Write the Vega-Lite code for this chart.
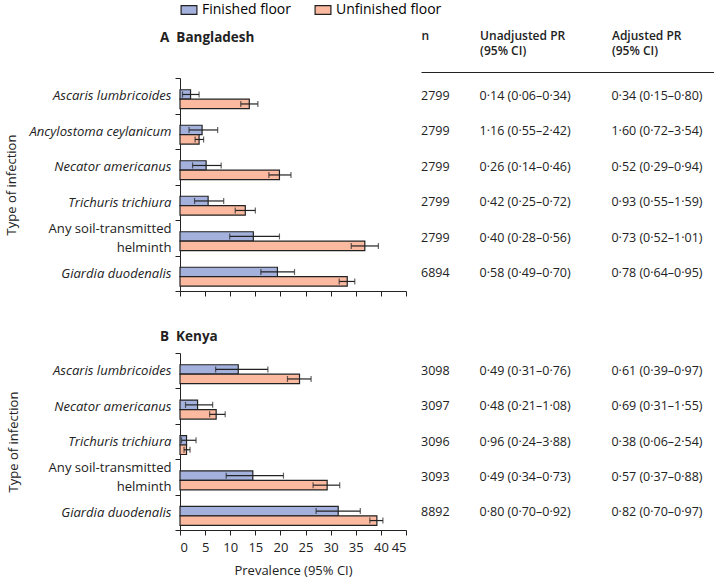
{
  "$schema": "https://vega.github.io/schema/vega-lite/v6.json",
  "padding": {"left": 5, "top": 1, "right": 0, "bottom": 5},
  "config": {
    "font": "Open Sans",
    "view": {"stroke": null},
    "axis": {"domainColor": "#222", "tickColor": "#222", "labelColor": "#222", "titleColor": "#222", "grid": false, "labelFontSize": 13, "titleFontSize": 13, "titleFontWeight": "normal"},
    "title": {"color": "#222"}
  },
  "datasets": {
    "bars": [
      {"country": "Bangladesh", "infection": "Ascaris lumbricoides", "floor": "Finished floor", "prev": 2.1, "lo": 0.5, "hi": 3.8},
      {"country": "Bangladesh", "infection": "Ascaris lumbricoides", "floor": "Unfinished floor", "prev": 13.8, "lo": 12.1, "hi": 15.5},
      {"country": "Bangladesh", "infection": "Ancylostoma ceylanicum", "floor": "Finished floor", "prev": 4.4, "lo": 1.8, "hi": 7.5},
      {"country": "Bangladesh", "infection": "Ancylostoma ceylanicum", "floor": "Unfinished floor", "prev": 3.8, "lo": 3.0, "hi": 4.7},
      {"country": "Bangladesh", "infection": "Necator americanus", "floor": "Finished floor", "prev": 5.2, "lo": 2.5, "hi": 8.2},
      {"country": "Bangladesh", "infection": "Necator americanus", "floor": "Unfinished floor", "prev": 19.8, "lo": 17.7, "hi": 22.1},
      {"country": "Bangladesh", "infection": "Trichuris trichiura", "floor": "Finished floor", "prev": 5.6, "lo": 2.9, "hi": 8.7},
      {"country": "Bangladesh", "infection": "Trichuris trichiura", "floor": "Unfinished floor", "prev": 13.0, "lo": 11.0, "hi": 15.0},
      {"country": "Bangladesh", "infection": "Any soil-transmitted helminth", "floor": "Finished floor", "prev": 14.6, "lo": 9.9, "hi": 19.8},
      {"country": "Bangladesh", "infection": "Any soil-transmitted helminth", "floor": "Unfinished floor", "prev": 36.8, "lo": 34.1, "hi": 39.5},
      {"country": "Bangladesh", "infection": "Giardia duodenalis", "floor": "Finished floor", "prev": 19.4, "lo": 16.1, "hi": 22.8},
      {"country": "Bangladesh", "infection": "Giardia duodenalis", "floor": "Unfinished floor", "prev": 33.3, "lo": 31.7, "hi": 34.8},
      {"country": "Kenya", "infection": "Ascaris lumbricoides", "floor": "Finished floor", "prev": 11.6, "lo": 7.1, "hi": 17.5},
      {"country": "Kenya", "infection": "Ascaris lumbricoides", "floor": "Unfinished floor", "prev": 23.8, "lo": 21.4, "hi": 26.1},
      {"country": "Kenya", "infection": "Necator americanus", "floor": "Finished floor", "prev": 3.5, "lo": 1.1, "hi": 6.5},
      {"country": "Kenya", "infection": "Necator americanus", "floor": "Unfinished floor", "prev": 7.2, "lo": 5.9, "hi": 9.0},
      {"country": "Kenya", "infection": "Trichuris trichiura", "floor": "Finished floor", "prev": 1.3, "lo": 0.3, "hi": 3.2},
      {"country": "Kenya", "infection": "Trichuris trichiura", "floor": "Unfinished floor", "prev": 1.3, "lo": 0.8, "hi": 2.0},
      {"country": "Kenya", "infection": "Any soil-transmitted helminth", "floor": "Finished floor", "prev": 14.5, "lo": 9.2, "hi": 20.6},
      {"country": "Kenya", "infection": "Any soil-transmitted helminth", "floor": "Unfinished floor", "prev": 29.3, "lo": 26.5, "hi": 31.8},
      {"country": "Kenya", "infection": "Giardia duodenalis", "floor": "Finished floor", "prev": 31.5, "lo": 27.1, "hi": 35.9},
      {"country": "Kenya", "infection": "Giardia duodenalis", "floor": "Unfinished floor", "prev": 39.2, "lo": 37.8, "hi": 40.4}
    ],
    "table": [
      {"country": "Bangladesh", "infection": "Ascaris lumbricoides", "n": "2799", "unadj": "0·14 (0·06–0·34)", "adj": "0·34 (0·15–0·80)"},
      {"country": "Bangladesh", "infection": "Ancylostoma ceylanicum", "n": "2799", "unadj": "1·16 (0·55–2·42)", "adj": "1·60 (0·72–3·54)"},
      {"country": "Bangladesh", "infection": "Necator americanus", "n": "2799", "unadj": "0·26 (0·14–0·46)", "adj": "0·52 (0·29–0·94)"},
      {"country": "Bangladesh", "infection": "Trichuris trichiura", "n": "2799", "unadj": "0·42 (0·25–0·72)", "adj": "0·93 (0·55–1·59)"},
      {"country": "Bangladesh", "infection": "Any soil-transmitted helminth", "n": "2799", "unadj": "0·40 (0·28–0·56)", "adj": "0·73 (0·52–1·01)"},
      {"country": "Bangladesh", "infection": "Giardia duodenalis", "n": "6894", "unadj": "0·58 (0·49–0·70)", "adj": "0·78 (0·64–0·95)"},
      {"country": "Kenya", "infection": "Ascaris lumbricoides", "n": "3098", "unadj": "0·49 (0·31–0·76)", "adj": "0·61 (0·39–0·97)"},
      {"country": "Kenya", "infection": "Necator americanus", "n": "3097", "unadj": "0·48 (0·21–1·08)", "adj": "0·69 (0·31–1·55)"},
      {"country": "Kenya", "infection": "Trichuris trichiura", "n": "3096", "unadj": "0·96 (0·24–3·88)", "adj": "0·38 (0·06–2·54)"},
      {"country": "Kenya", "infection": "Any soil-transmitted helminth", "n": "3093", "unadj": "0·49 (0·34–0·73)", "adj": "0·57 (0·37–0·88)"},
      {"country": "Kenya", "infection": "Giardia duodenalis", "n": "8892", "unadj": "0·80 (0·70–0·92)", "adj": "0·82 (0·70–0·97)"}
    ]
  },
  "resolve": {"scale": {"color": "shared"}},
  "spacing": 32,
  "vconcat": [
    {
      "spacing": 14,
      "hconcat": [
        {
          "width": 226, "height": 213,
          "title": {"text": "A\u00a0\u00a0Bangladesh", "anchor": "start", "frame": "group", "dx": -20, "fontSize": 13.5, "fontWeight": "bold", "offset": 28},
          "data": {"name": "bars"},
          "transform": [{"filter": "datum.country == 'Bangladesh'"}],
          "encoding": {
            "y": {"field": "infection", "type": "nominal", "sort": ["Ascaris lumbricoides", "Ancylostoma ceylanicum", "Necator americanus", "Trichuris trichiura", "Any soil-transmitted helminth", "Giardia duodenalis"],
              "scale": {"paddingInner": 0, "paddingOuter": 0},
              "axis": {"title": "Type of infection", "titlePadding": 10, "tickBand": "extent", "tickSize": 5, "labelPadding": 4, "labelLineHeight": 19, "labelFontSize": 13.1,
                "labelExpr": "datum.value == 'Any soil-transmitted helminth' ? ['Any soil-transmitted', 'helminth'] : datum.value",
                "labelOffset": {"condition": {"test": "datum.value == 'Any soil-transmitted helminth'", "value": -9.5}, "value": 0},
                "labelFontStyle": {"condition": {"test": "datum.value == 'Any soil-transmitted helminth'", "value": "normal"}, "value": "italic"}}},
            "yOffset": {"field": "floor", "type": "nominal", "sort": ["Finished floor", "Unfinished floor"], "scale": {"paddingInner": 0, "paddingOuter": 0.87, "align": 0.71}}
          },
          "layer": [
            {"mark": {"type": "bar", "stroke": "#222", "strokeWidth": 1.2},
             "encoding": {
               "x": {"field": "prev", "type": "quantitative", "scale": {"domain": [0, 45]}, "axis": {"values": [0,5,10,15,20,25,30,35,40,45], "labels": false, "title": null, "tickSize": 5}},
               "color": {"field": "floor", "type": "nominal", "scale": {"domain": ["Finished floor", "Unfinished floor"], "range": ["#a3b1dc", "#fbb9a0"]},
                 "legend": {"title": null, "orient": "top", "offset": 12, "direction": "horizontal", "symbolType": "M-1,-0.55H1V0.55H-1Z", "symbolStrokeColor": "#222", "symbolStrokeWidth": 1.2, "symbolSize": 250, "labelFontSize": 14, "columnPadding": 20}}
             }},
            {"mark": {"type": "rule", "color": "#222", "strokeWidth": 1.2}, "encoding": {"x": {"field": "lo", "type": "quantitative", "axis": {"values": [0,5,10,15,20,25,30,35,40,45], "labels": false, "title": null, "tickSize": 5}}, "x2": {"field": "hi"}}},
            {"mark": {"type": "tick", "color": "#222", "thickness": 1.2, "size": 6}, "encoding": {"x": {"field": "lo", "type": "quantitative", "axis": {"values": [0,5,10,15,20,25,30,35,40,45], "labels": false, "title": null, "tickSize": 5}}}},
            {"mark": {"type": "tick", "color": "#222", "thickness": 1.2, "size": 6}, "encoding": {"x": {"field": "hi", "type": "quantitative", "axis": {"values": [0,5,10,15,20,25,30,35,40,45], "labels": false, "title": null, "tickSize": 5}}}}
          ]
        },
        {
          "width": 293, "height": 213,
          "data": {"name": "table"},
          "transform": [{"filter": "datum.country == 'Bangladesh'"}, {"fold": ["n", "unadj", "adj"], "as": ["col", "txt"]}],
          "mark": {"type": "text", "align": "left", "baseline": "middle", "fontSize": 12.5, "color": "#222"},
          "encoding": {
            "y": {"field": "infection", "type": "nominal", "sort": ["Ascaris lumbricoides", "Ancylostoma ceylanicum", "Necator americanus", "Trichuris trichiura", "Any soil-transmitted helminth", "Giardia duodenalis"], "scale": {"paddingInner": 0, "paddingOuter": 0}, "axis": null},
            "x": {"field": "col", "type": "nominal",
              "scale": {"type": "point", "domain": ["n", "s1", "s2", "s3", "unadj", "s5", "s6", "s7", "s8", "s9", "s10", "s11", "s12", "adj", "s14", "s15", "s16", "s17", "s18", "s19", "s20"], "padding": 0},
              "axis": {"orient": "top", "values": ["n", "unadj", "adj"], "ticks": false, "offset": 6, "labelAlign": "left", "labelBaseline": "bottom", "labelPadding": 30, "labelFontWeight": 600, "labelFontSize": 12, "labelLineHeight": 15.5, "labelAngle": 0, "title": null, "labelOverlap": false,
                "labelExpr": "datum.value == 'n' ? ['n', ''] : datum.value == 'unadj' ? ['Unadjusted PR', '(95% CI)'] : ['Adjusted PR', '(95% CI)']"}},
            "text": {"field": "txt", "type": "nominal"}
          }
        }
      ]
    },
    {
      "spacing": 14,
      "hconcat": [
        {
          "width": 226, "height": 177,
          "title": {"text": "B\u00a0\u00a0Kenya", "anchor": "start", "frame": "group", "dx": -20, "fontSize": 13.5, "fontWeight": "bold", "offset": 4},
          "data": {"name": "bars"},
          "transform": [{"filter": "datum.country == 'Kenya'"}],
          "encoding": {
            "y": {"field": "infection", "type": "nominal", "sort": ["Ascaris lumbricoides", "Necator americanus", "Trichuris trichiura", "Any soil-transmitted helminth", "Giardia duodenalis"],
              "scale": {"paddingInner": 0, "paddingOuter": 0},
              "axis": {"title": "Type of infection", "titlePadding": 28, "tickBand": "extent", "tickSize": 5, "labelPadding": 4, "labelLineHeight": 19, "labelFontSize": 13.1,
                "labelExpr": "datum.value == 'Any soil-transmitted helminth' ? ['Any soil-transmitted', 'helminth'] : datum.value",
                "labelOffset": {"condition": {"test": "datum.value == 'Any soil-transmitted helminth'", "value": -9.5}, "value": 0},
                "labelFontStyle": {"condition": {"test": "datum.value == 'Any soil-transmitted helminth'", "value": "normal"}, "value": "italic"}}},
            "yOffset": {"field": "floor", "type": "nominal", "sort": ["Finished floor", "Unfinished floor"], "scale": {"paddingInner": 0, "paddingOuter": 0.87, "align": 0.71}}
          },
          "layer": [
            {"mark": {"type": "bar", "stroke": "#222", "strokeWidth": 1.2},
             "encoding": {
               "x": {"field": "prev", "type": "quantitative", "scale": {"domain": [0, 45]}, "axis": {"values": [0,5,10,15,20,25,30,35,40,45], "title": "Prevalence (95% CI)", "tickSize": 5, "labelPadding": 6, "titlePadding": 10}},
               "color": {"field": "floor", "type": "nominal", "scale": {"domain": ["Finished floor", "Unfinished floor"], "range": ["#a3b1dc", "#fbb9a0"]}}
             }},
            {"mark": {"type": "rule", "color": "#222", "strokeWidth": 1.2}, "encoding": {"x": {"field": "lo", "type": "quantitative", "axis": {"values": [0,5,10,15,20,25,30,35,40,45], "title": "Prevalence (95% CI)", "tickSize": 5, "labelPadding": 6, "titlePadding": 10}}, "x2": {"field": "hi"}}},
            {"mark": {"type": "tick", "color": "#222", "thickness": 1.2, "size": 6}, "encoding": {"x": {"field": "lo", "type": "quantitative", "axis": {"values": [0,5,10,15,20,25,30,35,40,45], "title": "Prevalence (95% CI)", "tickSize": 5, "labelPadding": 6, "titlePadding": 10}}}},
            {"mark": {"type": "tick", "color": "#222", "thickness": 1.2, "size": 6}, "encoding": {"x": {"field": "hi", "type": "quantitative", "axis": {"values": [0,5,10,15,20,25,30,35,40,45], "title": "Prevalence (95% CI)", "tickSize": 5, "labelPadding": 6, "titlePadding": 10}}}}
          ]
        },
        {
          "width": 293, "height": 177,
          "data": {"name": "table"},
          "transform": [{"filter": "datum.country == 'Kenya'"}, {"fold": ["n", "unadj", "adj"], "as": ["col", "txt"]}],
          "mark": {"type": "text", "align": "left", "baseline": "middle", "fontSize": 12.5, "color": "#222"},
          "encoding": {
            "y": {"field": "infection", "type": "nominal", "sort": ["Ascaris lumbricoides", "Necator americanus", "Trichuris trichiura", "Any soil-transmitted helminth", "Giardia duodenalis"], "scale": {"paddingInner": 0, "paddingOuter": 0}, "axis": null},
            "x": {"field": "col", "type": "nominal",
              "scale": {"type": "point", "domain": ["n", "s1", "s2", "s3", "unadj", "s5", "s6", "s7", "s8", "s9", "s10", "s11", "s12", "adj", "s14", "s15", "s16", "s17", "s18", "s19", "s20"], "padding": 0},
              "axis": null},
            "text": {"field": "txt", "type": "nominal"}
          }
        }
      ]
    }
  ]
}
